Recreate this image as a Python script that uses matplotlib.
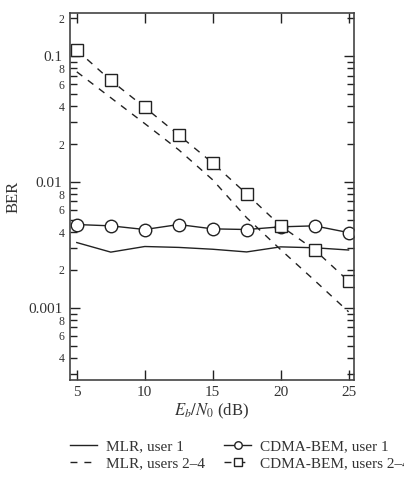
import matplotlib
matplotlib.use("Agg")
import matplotlib.pyplot as plt
from matplotlib.ticker import LogLocator, FuncFormatter, FixedLocator
import numpy as np

plt.rcParams['font.family'] = ['Liberation Serif', 'DejaVu Serif']
plt.rcParams['mathtext.fontset'] = 'stix'

ebn0 = [5, 7.5, 10, 12.5, 15, 17.5, 20, 22.5, 25]
mlr_user1 = [0.0033, 0.00277, 0.00307, 0.00302, 0.00292, 0.00278, 0.00305, 0.00300, 0.00288]
mlr_users24 = [0.075, 0.0467, 0.0291, 0.0180, 0.0104, 0.0052, 0.0029, 0.00165, 0.00093]
bem_user1 = [0.00459, 0.00448, 0.00419, 0.00459, 0.00424, 0.00419, 0.00440, 0.00448, 0.00396]
bem_users24 = [0.1116, 0.0641, 0.0392, 0.0236, 0.01415, 0.00803, 0.00448, 0.00289, 0.00163]

labels = ['MLR, user 1', 'MLR, users 2\u20134', 'CDMA-BEM, user 1', 'CDMA-BEM, users 2\u20134']
xticks = [5, 10, 15, 20, 25]

col = '#222222'
fig = plt.figure(figsize=(4.04, 4.84), dpi=100)
ax = fig.add_axes([70/404, 1-380/484, (354-70)/404, (380-13)/484])

l1, = ax.plot(ebn0, mlr_user1, '-', color=col, lw=1.0)
l2, = ax.plot(ebn0, mlr_users24, color=col, lw=1.0, dashes=(5, 5))
l3, = ax.plot(ebn0, bem_user1, '-', color=col, lw=1.0, marker='o', ms=9,
              mfc='white', mec=col, mew=1.0)
l4, = ax.plot(ebn0, bem_users24, color=col, lw=1.0, dashes=(5, 5), marker='s', ms=8.5,
              mfc='white', mec=col, mew=1.0)

ax.set_yscale('log')
ax.set_xlim(4.5, 25.4)
ax.set_ylim(2.67e-4, 0.22)
ax.set_xticks(xticks)
ax.set_xticklabels([str(t) for t in xticks])

ax.yaxis.set_major_locator(FixedLocator([0.001, 0.01, 0.1]))
ax.yaxis.set_major_formatter(FuncFormatter(lambda v, p: {0.001: '0.001', 0.01: '0.01', 0.1: '0.1'}.get(round(v, 6), '')))
ax.yaxis.set_minor_locator(LogLocator(base=10, subs=np.arange(2, 10), numticks=20))

def minfmt(v, p):
    e = np.floor(np.log10(v) + 1e-9)
    d = int(round(v / 10**e))
    return str(d) if d in (2, 4, 6, 8) else ''
ax.yaxis.set_minor_formatter(FuncFormatter(minfmt))

ax.tick_params(axis='both', which='both', direction='in', top=True, right=True, colors=col)
ax.tick_params(axis='both', which='major', length=7, width=1.0, labelsize=11, labelcolor='#333333')
ax.tick_params(axis='y', which='minor', length=5, width=1.0, labelsize=8.5, labelcolor='#333333', pad=4)
ax.tick_params(axis='y', which='major', pad=5.5)
ax.tick_params(axis='x', which='major', pad=4)
for s in ax.spines.values():
    s.set_color('#444444')
    s.set_linewidth(1.2)

ax.set_xlabel(r'$E_b/N_0$ (dB)', fontsize=12, color='#333333', labelpad=2)
ax.set_ylabel('BER', fontsize=12, color='#333333')
ax.yaxis.set_label_coords(-(70-22)/284, 0.5)

fig.legend([l1, l2, l3, l4], labels, ncol=2, frameon=False, loc='upper left',
           bbox_to_anchor=(56/404, 1-426/484), fontsize=11, handlelength=1.8,
           handletextpad=0.6, columnspacing=1.2, labelspacing=0.2, markerscale=0.6,
           labelcolor='#333333')

fig.savefig('out.png', dpi=100)
